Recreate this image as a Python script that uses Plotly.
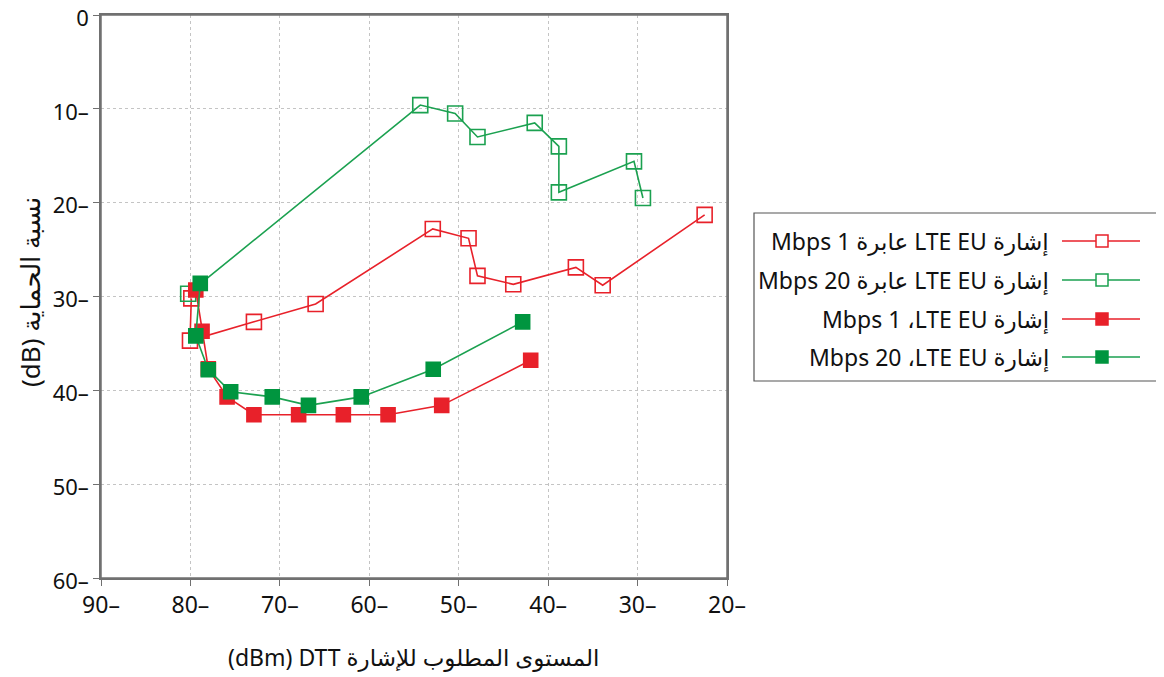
import plotly.graph_objects as go

# ---------------- data ----------------
x_open_1 = [-79.9, -80.05, -72.9, -66.0, -52.9, -48.9, -47.9, -43.9, -36.9, -33.9, -22.5]
y_open_1 = [-30.2, -34.7, -32.7, -30.8, -22.8, -23.8, -27.8, -28.7, -26.9, -28.8, -21.3]

x_open_20 = [-80.25, -54.3, -50.4, -47.9, -41.5, -38.8, -38.8, -30.4, -29.4]
y_open_20 = [-29.7, -9.6, -10.5, -13.0, -11.5, -14.0, -18.9, -15.6, -19.5]

x_fill_1 = [-79.4, -78.7, -78.0, -75.9, -72.9, -67.9, -62.9, -57.9, -51.9, -41.95]
y_fill_1 = [-29.3, -33.7, -37.7, -40.7, -42.6, -42.6, -42.6, -42.6, -41.6, -36.8]

x_fill_20 = [-78.9, -79.4, -78.0, -75.5, -70.85, -66.8, -60.9, -52.85, -42.85]
y_fill_20 = [-28.6, -34.2, -37.8, -40.15, -40.7, -41.6, -40.7, -37.75, -32.7]

series_names = [
    "Mbps 1 عابرة LTE EU إشارة",
    "Mbps 20 عابرة LTE EU إشارة",
    "Mbps 1 ،LTE EU إشارة",
    "Mbps 20 ،LTE EU إشارة",
]

x_ticks = [-90, -80, -70, -60, -50, -40, -30, -20]
y_ticks = [0, -10, -20, -30, -40, -50, -60]

x_title = "(dBm) DTT المستوى المطلوب للإشارة"
y_title = "(dB) نسبة الحماية"

RED = "#E8212A"
GREEN = "#1BA150"
GREEN_FILL = "#00953F"
FONT = "Noto Sans, DejaVu Sans, sans-serif"
AXIS_GREY = "#707070"

def lbl(v):
    return "0" if v == 0 else f"{abs(v)}–"

fig = go.Figure()

styles = [
    (x_open_1, y_open_1, RED, "square-open", RED),
    (x_open_20, y_open_20, GREEN, "square-open", GREEN),
    (x_fill_1, y_fill_1, RED, "square", RED),
    (x_fill_20, y_fill_20, GREEN, "square", GREEN_FILL),
]
for (xs, ys, lc, sym, mc), name in zip(styles, series_names):
    fig.add_trace(go.Scatter(
        x=xs, y=ys, mode="lines+markers", name=name, showlegend=False,
        line=dict(color=lc, width=1.6),
        marker=dict(symbol=sym, size=14 if sym == "square" else 15, color=mc,
                    line=dict(color=mc, width=1.6)),
    ))

# ---------- manual right-to-left legend (figure pixel coords) ----------
FW, FH = 1164, 677
L, R, T, B = 93, 719, 7, 570
W, H = R - L, B - T
def px(x):
    return (x - L) / W
def py(y):
    return (B - y) / H

shapes = [
    dict(type="rect", xref="paper", yref="paper", x0=0, x1=1, y0=0, y1=1,
         line=dict(color=AXIS_GREY, width=1.5), layer="above"),
    dict(type="rect", xref="paper", yref="paper",
         x0=px(746), x1=px(1155), y0=py(373), y1=py(205),
         line=dict(color="#555555", width=1.2), fillcolor="white", layer="below"),
]
annotations = []
rows = [233, 272, 311, 349]
for (xs, ys, lc, sym, mc), name, ry in zip(styles, series_names, rows):
    shapes.append(dict(type="line", xref="paper", yref="paper",
                       x0=px(1054), x1=px(1132), y0=py(ry), y1=py(ry),
                       line=dict(color=lc, width=1.6)))
    s = 6
    shapes.append(dict(type="rect", xref="paper", yref="paper",
                       x0=px(1094 - s), x1=px(1094 + s), y0=py(ry + s), y1=py(ry - s),
                       line=dict(color=mc, width=1.5),
                       fillcolor=mc if sym == "square" else "white"))
    annotations.append(dict(xref="paper", yref="paper", x=px(1043), y=py(ry),
                            text=name, showarrow=False, xanchor="right", yanchor="middle",
                            font=dict(family=FONT, size=23, color="#111111")))

annotations.append(dict(xref="paper", yref="paper", x=px(405), y=py(649),
                        text=x_title, showarrow=False, xanchor="center", yanchor="middle",
                        font=dict(family=FONT, size=23, color="#111111")))
annotations.append(dict(xref="paper", yref="paper", x=px(22), y=py(284),
                        text=y_title, showarrow=False, xanchor="center", yanchor="middle",
                        textangle=-90, font=dict(family=FONT, size=26, color="#111111")))

axis_common = dict(showline=True, mirror=True, linecolor=AXIS_GREY, linewidth=1.5,
                   ticks="outside", ticklen=6, tickcolor=AXIS_GREY, tickwidth=1.2,
                   showgrid=True, gridcolor="#c4c4c4", griddash="dot", gridwidth=1,
                   zeroline=False, automargin=False, ticklabeloverflow="allow")

fig.update_xaxes(range=[-90, -20], tickvals=x_ticks, ticktext=[lbl(v) for v in x_ticks],
                 tickfont=dict(family=FONT, size=23, color="#111111"), **axis_common)
fig.update_yaxes(range=[-60, 0], tickvals=y_ticks, ticktext=[lbl(v) for v in y_ticks],
                 tickfont=dict(family=FONT, size=22, color="#111111"),
                 ticklabelshift=3, **axis_common)

fig.update_layout(
    width=FW, height=FH,
    margin=dict(l=L, r=FW - R, t=T, b=FH - B, autoexpand=False),
    paper_bgcolor="white", plot_bgcolor="white",
    shapes=shapes, annotations=annotations,
    font=dict(family=FONT),
)

fig.write_html("out.html")
